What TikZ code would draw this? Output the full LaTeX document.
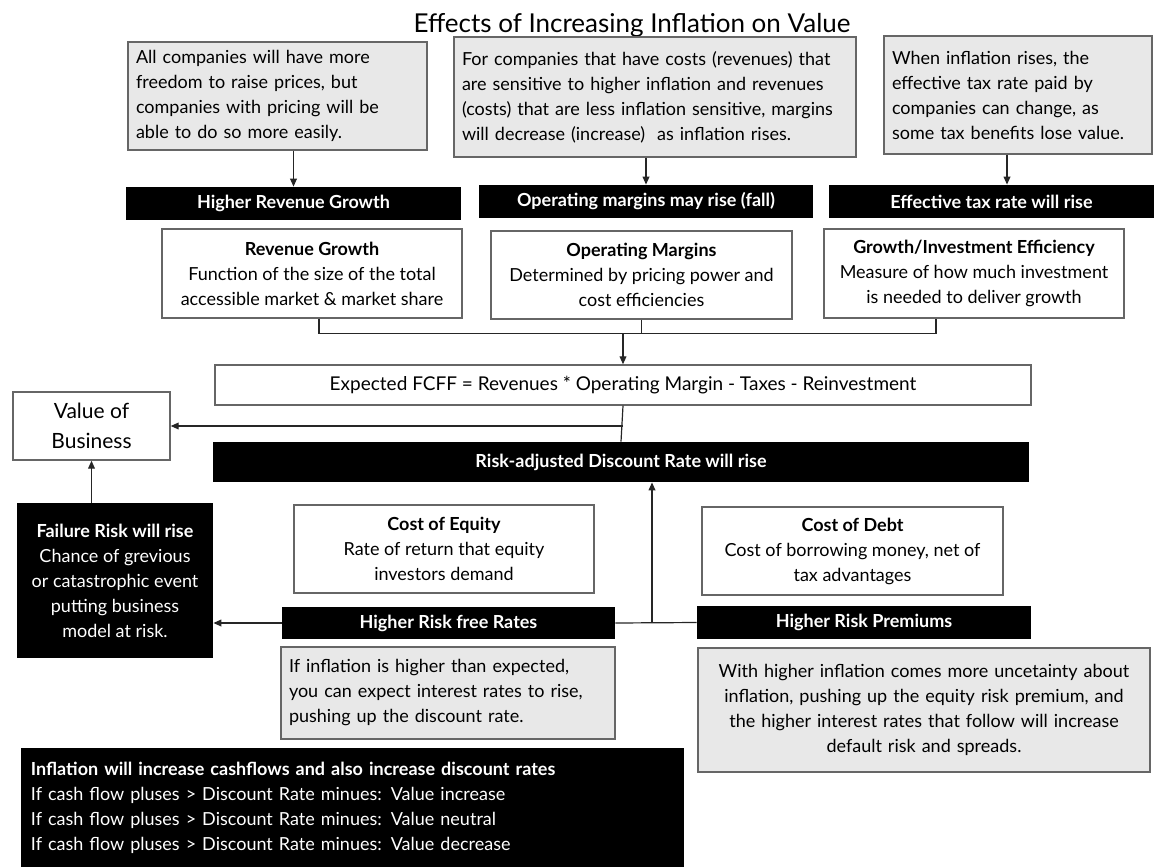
\documentclass[tikz,border=0pt]{standalone}
\usepackage{fontspec}
\setmainfont{Lato}
\usetikzlibrary{arrows.meta, positioning, calc}

\begin{document}
\begin{tikzpicture}[x=0.5pt, y=-0.5pt,
    every node/.style={inner sep=0pt},
    note/.style={draw=black!60, fill=black!9, line width=0.7pt, inner xsep=4pt, align=left, font=\fontsize{9}{12.5}\selectfont},
    driver/.style={draw=black!60, fill=white, line width=0.7pt, align=center, font=\fontsize{9}{12.5}\selectfont},
    effect/.style={fill=black, text=white, font=\bfseries\fontsize{9}{12.5}\selectfont},
    link/.style={line width=0.6pt, black!85},
    arr/.style={link, -{Triangle[length=4pt,width=3.4pt]}}]
    \useasboundingbox (0,0) rectangle (1156,867);

    % Title
    \node[font=\fontsize{13}{15}\selectfont] (title) at (632,25) {Effects of Increasing Inflation on Value};

    % Inflation notes on cash flow side
    \node[note, text width=141.5pt, minimum height=54pt] (rev_note) at (277.5,96) {All companies will have more\\freedom to raise prices, but\\companies with pricing will be\\able to do so more easily.};
    \node[note, text width=193pt, minimum height=60pt] (mar_note) at (655,97) {For companies that have costs (revenues) that\\are sensitive to higher inflation and revenues\\(costs) that are less inflation sensitive, margins\\will decrease (increase)\ \ as inflation rises.};
    \node[note, text width=126pt, minimum height=59pt] (tax_note) at (1018,95) {When inflation rises, the\\effective tax rate paid by\\companies can change, as\\some tax benefits lose value.};

    % Effects
    \node[effect, minimum width=167.5pt, minimum height=16.5pt] (rev_bar) at (293.5,203.5) {Higher Revenue Growth};
    \node[effect, minimum width=167pt, minimum height=16.5pt] (mar_bar) at (646,201.5) {Operating margins may rise (fall)};
    \node[effect, minimum width=162.5pt, minimum height=16.5pt] (tax_bar) at (991.5,201.5) {Effective tax rate will rise};

    % Value drivers
    \node[driver, minimum width=150pt, minimum height=44.5pt] (rev_box) at (312,273.5) {\textbf{Revenue Growth}\\Function of the size of the total\\accessible market \& market share};
    \node[driver, minimum width=150.5pt, minimum height=44pt] (mar_box) at (641.5,275) {\textbf{Operating Margins}\\Determined by pricing power and\\cost efficiencies};
    \node[driver, minimum width=150pt, minimum height=44.5pt] (gie_box) at (974,273.5) {\textbf{Growth/Investment Efficiency}\\Measure of how much investment\\is needed to deliver growth};

    \node[driver, minimum width=408pt, minimum height=20pt, font=\fontsize{9.5}{12.5}\selectfont] (fcff) at (623,385) {Expected FCFF = Revenues * Operating Margin - Taxes - Reinvestment};
    \node[driver, minimum width=78.5pt, minimum height=34pt, font=\fontsize{10.5}{15}\selectfont] (val) at (91.5,426) {Value of\\Business};

    % Discount rate side
    \node[effect, minimum width=408pt, minimum height=20pt] (risk) at (621,462) {Risk-adjusted Discount Rate will rise};
    \node[effect, minimum width=98pt, minimum height=77.5pt, align=center] (fail) at (115,580.5) {Failure Risk will rise\\\mdseries Chance of grevious\\\mdseries or catastrophic event\\\mdseries putting business\\\mdseries model at risk.};
    \node[driver, minimum width=150pt, minimum height=44pt] (coe) at (444,549) {\textbf{Cost of Equity}\\Rate of return that equity\\investors demand};
    \node[driver, minimum width=150.5pt, minimum height=44pt] (cod) at (852.5,551) {\textbf{Cost of Debt}\\Cost of borrowing money, net of\\tax advantages};
    \node[effect, minimum width=166.5pt, minimum height=16pt] (rf_bar) at (448.5,623) {Higher Risk free Rates};
    \node[effect, minimum width=167pt, minimum height=16.5pt] (prem_bar) at (864,622.5) {Higher Risk Premiums};
    \node[note, text width=159pt, minimum height=46pt] (rf_note) at (448,693) {If inflation is higher than expected,\\you can expect interest rates to rise,\\pushing up the discount rate.};
    \node[note, text width=218pt, minimum height=62pt, align=center] (prem_note) at (924,710) {With higher inflation comes more uncetainty about\\inflation, pushing up the equity risk premium, and\\the higher interest rates that follow will increase\\default risk and spreads.};

    % Summary
    \node[effect, inner xsep=5pt, text width=321.5pt, minimum height=59.5pt, align=left, font=\fontsize{9}{12.5}\selectfont] (summary) at (352.5,807.5) {\textbf{Inflation will increase cashflows and also increase discount rates}\\If cash flow pluses > Discount Rate minues: Value increase\\If cash flow pluses > Discount Rate minues: Value neutral\\If cash flow pluses > Discount Rate minues: Value decrease};

    % Notes to effects
    \draw[arr] (rev_bar.north |- rev_note.south) -- (rev_bar.north);
    \draw[arr] (mar_bar.north |- mar_note.south) -- (mar_bar.north);
    \draw[arr] ([xshift=-5.5pt]tax_note.south) -- ([xshift=-5.5pt]tax_note.south |- tax_bar.north);

    % Drivers into FCFF
    \coordinate (in_join) at (623,333);
    \draw[link] ([xshift=3.5pt]rev_box.south) -- ++(0,15) -| ([xshift=-19pt]gie_box.south);
    \draw[link] (mar_box.south) -- (mar_box.south |- in_join);
    \draw[arr] (in_join) -- (fcff.north);

    % FCFF and risk into value
    \draw[link] (fcff.south) -- (risk.north);
    \draw[arr] (fcff.south |- val.east) -- (val.east);
    \draw[arr] (val.south |- fail.north) -- (val.south);
    \draw[arr] (rf_bar.west) -- (rf_bar.west -| fail.east);
    \draw[link] (rf_bar.east) -- (prem_bar.west);
    \coordinate (dr_join) at (652,623);
    \draw[arr] (dr_join) -- (dr_join |- risk.south);
\end{tikzpicture}
\end{document}
